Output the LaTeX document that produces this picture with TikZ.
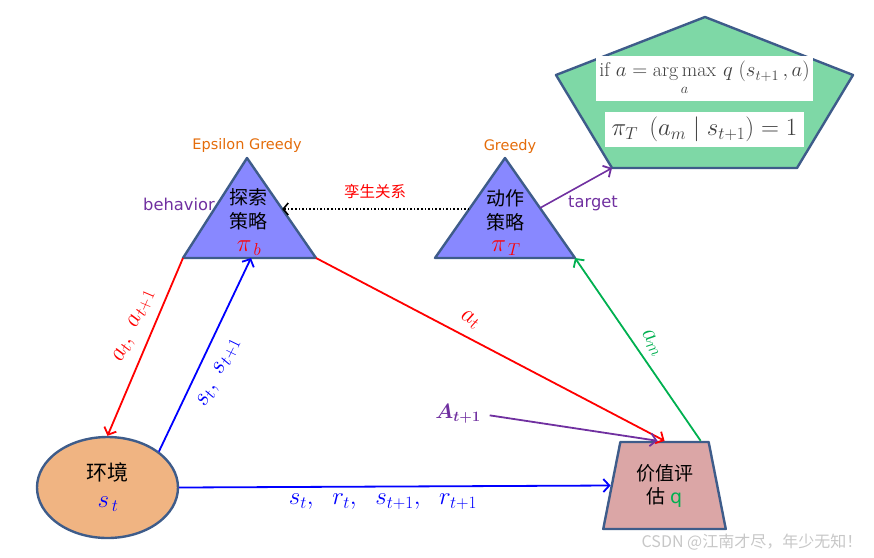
\documentclass[tikz,border=0pt]{standalone}
\usepackage{amsmath}
\usepackage{fontspec}
\setsansfont{DejaVu Sans}
\newfontfamily\cjk{Noto Sans CJK SC}
\usetikzlibrary{shapes.geometric,arrows.meta,calc,positioning}

\definecolor{edgeblue}{RGB}{62,92,138}
\definecolor{polblue}{RGB}{136,136,255}
\definecolor{tgtgreen}{RGB}{126,216,166}
\definecolor{envorange}{RGB}{240,180,130}
\definecolor{valrose}{RGB}{219,166,166}
\definecolor{amgreen}{RGB}{0,176,80}
\definecolor{tpurple}{RGB}{112,48,160}
\definecolor{gorange}{RGB}{228,108,10}
\definecolor{fgray}{RGB}{64,64,64}

\tikzset{
  shp/.style={draw=edgeblue, line width=2.4pt, line join=round},
  arr/.style={line width=1.8pt, -{Straight Barb[length=6pt,width=13pt,line width=1.8pt]}},
  cn/.style={font=\cjk\fontsize{19}{24}\selectfont, align=center, inner sep=0pt},
  ml/.style={font=\fontsize{25}{28}\selectfont, inner sep=0pt},
  lab/.style={font=\sffamily\fontsize{14.5}{17}\selectfont, inner sep=0pt},
}

\begin{document}
\begin{tikzpicture}[x=1pt,y=-1pt]
  \useasboundingbox (0,0) rectangle (874,557);

  % corners of the two policy triangles and the target box
  \coordinate (bA) at (247,158);
  \coordinate (bL) at (183,258);
  \coordinate (bR) at (316,258);
  \coordinate (bB) at (251,258);
  \coordinate (gA) at (505,158);
  \coordinate (gL) at (435,258);
  \coordinate (gR) at (575,258);
  \coordinate (pT) at (705,17);
  \coordinate (pL) at (556,75);
  \coordinate (pR) at (853,75);
  \coordinate (pBR) at (797,168);
  \coordinate (pBL) at (612,168);

  \draw[shp, fill=polblue] (bA) -- (bR) -- (bL) -- cycle;
  \draw[shp, fill=polblue] (gA) -- (gR) -- (gL) -- cycle;
  \draw[shp, fill=tgtgreen] (pT) -- (pR) -- (pBR) -- (pBL) -- (pL) -- cycle;

  \node[fill=white, minimum width=217pt, minimum height=45pt, inner sep=0pt,
    font=\fontsize{20}{22}\selectfont, text=fgray] (f1) at (704.5,78.5)
    {if $\displaystyle a=\operatorname*{arg\,max}_{a}\, q\;(s_{t+1}\,,a)$};
  \node[fill=white, minimum width=199pt, minimum height=35pt, inner sep=0pt,
    font=\fontsize{23}{26}\selectfont, text=fgray] (f2) at (704.5,129.5)
    {$\pi_T\;\left(a_m\;\middle|\;s_{t+1}\right)=1$};

  \node[ellipse, shp, fill=envorange, minimum width=141pt, minimum height=101pt,
    inner sep=0pt] (env) at (107.5,487.5) {};
  \node[trapezium, trapezium stretches=true, trapezium angle=76, shp, fill=valrose,
    minimum width=123pt, minimum height=87pt, inner sep=3pt, align=center,
    font=\cjk\fontsize{19}{23}\selectfont] (val) at (664.5,485.5)
    {价值评\\估 \textcolor{amgreen}{\sffamily q}};

  % texts in the shapes
  \node[cn] (bTxt) at (248,209) {探索\\策略};
  \node[ml, red, font=\fontsize{24}{26}\selectfont] (bPi) at (249,248) {$\pi_{\,b}$};
  \node[cn] (gTxt) at (505,210) {动作\\策略};
  \node[ml, red, font=\fontsize{24}{26}\selectfont] (gPi) at (506,248) {$\pi_{\,T}$};
  \node[cn, font=\cjk\fontsize{21}{24}\selectfont] (envTxt) at (107,472) {环境};
  \node[ml, blue, font=\fontsize{27}{30}\selectfont] (envS) at (108,504) {$s_{\,t}$};

  \node[lab, gorange] (eps) at (247,145) {Epsilon Greedy};
  \node[lab, gorange] (grd) at (510,146) {Greedy};
  \node[lab, tpurple, font=\sffamily\fontsize{16.3}{19}\selectfont] (beh) at (179,204) {behavior};
  \node[lab, tpurple, font=\sffamily\fontsize{16.3}{19}\selectfont] (tgt) at (593,203) {target};
  \node[cn, red, font=\cjk\fontsize{15.5}{18}\selectfont] (twin) at (375,192) {孪生关系};
  \node[ml, tpurple, font=\fontsize{22}{24}\selectfont] (At) at (458,414) {$\boldsymbol{A_{t+1}}$};

  % labels along the arrows
  \node[ml, red, rotate=67] (laL) at (134,326) {$a_t,\ a_{t+1}$};
  \node[ml, blue, rotate=64] (lsL) at (219,373) {$s_t,\ s_{t+1}$};
  \node[ml, red, rotate=-28] (laR) at (470,320) {$a_t$};
  \node[ml, amgreen, rotate=-57] (lam) at (652,343) {$a_m$};
  \node[ml, blue] (lsr) at (383,502) {$s_t,\ \;r_t,\ \;s_{t+1},\ \;r_{t+1}$};

  % connectors
  \draw[arr, red] (bL) -- (env.north);
  \draw[arr, blue] (env.35) -- (bB);
  \draw[arr, red] (bR) -- (val.north);
  \draw[arr, amgreen] ([xshift=-9pt]val.top right corner) -- (gR);
  \draw[arr, blue] (env.east) -- (val.west);
  \draw[arr, tpurple, shorten <=9pt] (At.east) -- ([xshift=-7pt]val.north);
  \draw[line width=1.6pt, dotted, -{Straight Barb[length=5pt,width=12pt,line width=1.6pt]}]
    ($(gA)!0.51!(gL)$) -- ($(bA)!0.51!(bR)$);
  \draw[arr, tpurple, line width=1.6pt] ($(gA)!0.5!(gR)$) -- (pBL);

  \node[font=\cjk\fontsize{16}{18}\selectfont, text=black!22] (mark) at (752,542)
    {CSDN @江南才尽，年少无知！};
\end{tikzpicture}
\end{document}
